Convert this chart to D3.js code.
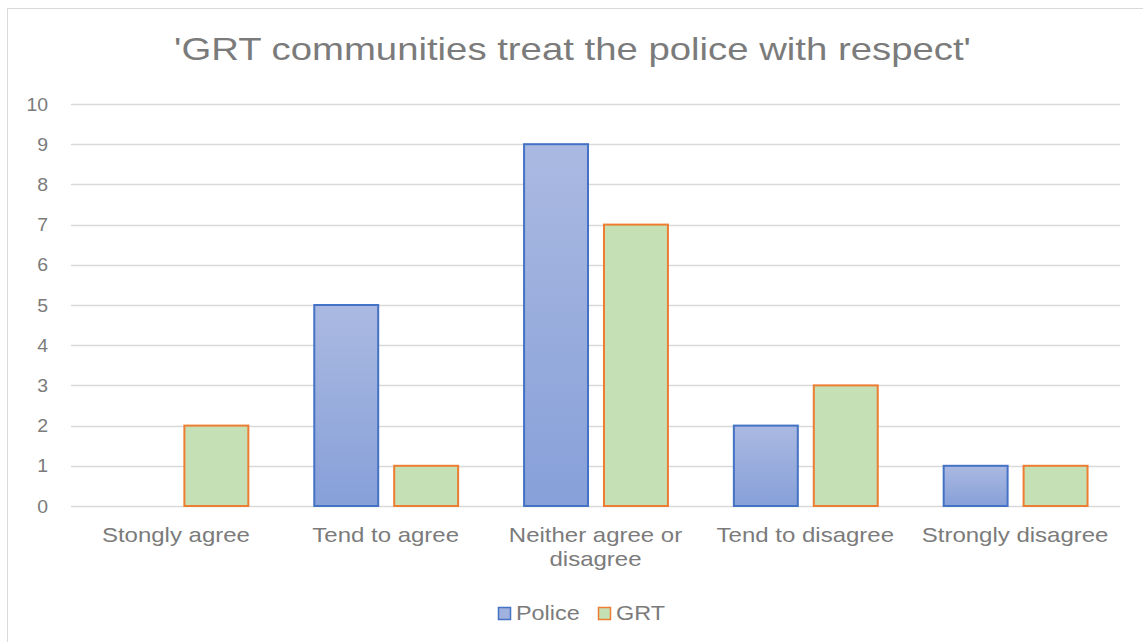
<!DOCTYPE html>
<html>
<head>
<meta charset="utf-8">
<script src="https://cdn.jsdelivr.net/npm/d3@7/dist/d3.min.js"></script>
<style>
  html, body { margin: 0; padding: 0; background: #fff; }
  svg { display: block; }
  text { font-family: "Liberation Sans", Arial, sans-serif; fill: #7b7b7b; }
</style>
</head>
<body>
<svg id="chart" width="1143" height="642"></svg>
<script>
// Survey responses: 'GRT communities treat the police with respect'
const categories = ["Stongly agree", "Tend to agree", "Neither agree or disagree", "Tend to disagree", "Strongly disagree"];
const seriesNames = ["Police", "GRT"];
const policeValues = [0, 5, 9, 2, 1];
const grtValues = [2, 1, 7, 3, 1];
const yTicks = [0, 1, 2, 3, 4, 5, 6, 7, 8, 9, 10];
const titleText = "'GRT communities treat the police with respect'";

const W = 1143, H = 642;
const plot = { left: 71, right: 1120, top: 104, bottom: 506 };
const stretch = 1.2; // horizontal text widening used throughout the chart

const svg = d3.select("#chart");

// gradient for the Police bars
const defs = svg.append("defs");
const grad = defs.append("linearGradient")
  .attr("id", "policeFill").attr("x1", 0).attr("y1", 0).attr("x2", 0).attr("y2", 1);
grad.append("stop").attr("offset", "0%").attr("stop-color", "#aab9e1");
grad.append("stop").attr("offset", "100%").attr("stop-color", "#87a0d9");

const styles = {
  Police: { fill: "url(#policeFill)", stroke: "#4472c4", swatch: "#a1b2de" },
  GRT: { fill: "#c5e0b4", stroke: "#ed7d31", swatch: "#c5e0b4" }
};

// chart frame
svg.append("rect")
  .attr("x", 7.5).attr("y", 8.5)
  .attr("width", W + 20).attr("height", H + 20)
  .attr("fill", "#fff").attr("stroke", "#d9d9d9").attr("stroke-width", 1);

// stretched text helper
function stretchedText(sel, x, y, anchor, sx) {
  return sel.append("text")
    .attr("text-anchor", anchor)
    .attr("transform", `translate(${x},${y}) scale(${sx || stretch},1)`);
}

// title
stretchedText(svg, 572.5, 60, "middle", 1.205)
  .attr("font-size", 31.8)
  .attr("fill", "#808080")
  .text(titleText);

// scales
const x0 = d3.scaleBand().domain(categories).range([plot.left, plot.right]).paddingInner(0).paddingOuter(0);
const x1 = d3.scaleBand().domain(seriesNames).range([0, x0.bandwidth()]).paddingInner(0.1875).paddingOuter(0.40625);
const y = d3.scaleLinear().domain([0, 10]).range([plot.bottom, plot.top]);

// gridlines
svg.append("g").selectAll("line").data(yTicks).join("line")
  .attr("x1", plot.left).attr("x2", plot.right)
  .attr("y1", d => Math.round(y(d)) + 0.5).attr("y2", d => Math.round(y(d)) + 0.5)
  .attr("stroke", "#d9d9d9").attr("stroke-width", 1.5);

// y tick labels
const yAxis = svg.append("g");
yTicks.forEach(t => {
  stretchedText(yAxis, 48, y(t) + 6.5, "end", 1.08)
    .attr("font-size", 18)
    .text(d3.format("d")(t));
});

// bars
const rows = categories.map((c, i) => ({ category: c, Police: policeValues[i], GRT: grtValues[i] }));
const groups = svg.append("g").selectAll("g").data(rows).join("g")
  .attr("transform", d => `translate(${x0(d.category)},0)`);

groups.selectAll("rect")
  .data(d => seriesNames.map(s => ({ series: s, value: d[s] })).filter(e => e.value > 0))
  .join("rect")
  .attr("x", d => x1(d.series) + 1)
  .attr("width", x1.bandwidth() - 1)
  .attr("y", d => y(d.value))
  .attr("height", d => y(0) - y(d.value))
  .attr("fill", d => styles[d.series].fill)
  .attr("stroke", d => styles[d.series].stroke)
  .attr("stroke-width", 2);

// category labels, wrapped to the band width
const labelG = svg.append("g");
const maxLine = x0.bandwidth() - 14;
categories.forEach(c => {
  const cx = x0(c) + x0.bandwidth() / 2;
  const words = c.split(" ");
  const lines = [];
  let line = [];
  const probe = labelG.append("text").attr("font-size", 20);
  words.forEach(w => {
    const test = line.concat([w]).join(" ");
    probe.text(test);
    if (probe.node().getComputedTextLength() * stretch > maxLine && line.length) {
      lines.push(line.join(" "));
      line = [w];
    } else {
      line.push(w);
    }
  });
  lines.push(line.join(" "));
  probe.remove();
  lines.forEach((ln, k) => {
    stretchedText(labelG, cx, 542 + k * 24, "middle")
      .attr("font-size", 20)
      .text(ln);
  });
});

// legend
const legend = svg.append("g");
const legendItems = [
  { name: "Police", sx: 498.5, tx: 516 },
  { name: "GRT", sx: 598.5, tx: 616 }
];
legendItems.forEach(item => {
  legend.append("rect")
    .attr("x", item.sx).attr("y", 607.5)
    .attr("width", 12).attr("height", 12)
    .attr("fill", styles[item.name].swatch)
    .attr("stroke", styles[item.name].stroke)
    .attr("stroke-width", 1.5);
  stretchedText(legend, item.tx, 620, "start")
    .attr("font-size", 19.5)
    .text(item.name);
});
</script>
</body>
</html>
